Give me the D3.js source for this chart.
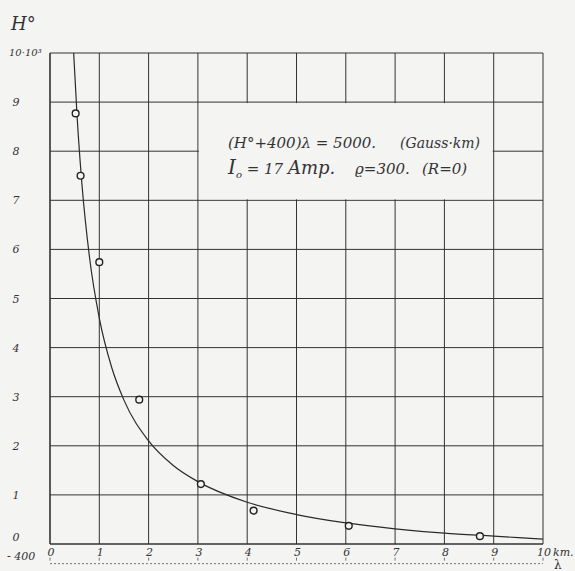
<!DOCTYPE html>
<html>
<head>
<meta charset="utf-8">
<script src="https://cdn.jsdelivr.net/npm/d3@7"></script>
<style>
  body { margin: 0; background: #f4f4f3; }
  svg { display: block; }
  text { font-family: "DejaVu Serif", "Liberation Serif", serif; font-style: italic; fill: #333; white-space: pre; }
</style>
</head>
<body>
<div id="chart"></div>
<script>
// observed points (lambda in km, H° in gauss)
const obsLambda = [0.52, 0.62, 1.0, 1.81, 3.06, 4.13, 6.06, 8.72];
const obsH = [8770, 7500, 5740, 2940, 1220, 680, 370, 160];

// smooth curve
const curveLambda = [0.48, 0.55, 0.65, 0.8, 1.0, 1.25, 1.5, 2, 2.5, 3, 4, 5, 6, 7, 8, 9, 10];
const curveH = [10000, 8700, 7300, 5850, 4600, 3600, 2930, 2100, 1600, 1270, 850, 600, 430, 310, 220, 160, 100];

const xTicks = [0, 1, 2, 3, 4, 5, 6, 7, 8, 9, 10];
const yTicks = [0, 1000, 2000, 3000, 4000, 5000, 6000, 7000, 8000, 9000, 10000];
const yLabels = ["0", "1", "2", "3", "4", "5", "6", "7", "8", "9", "10·10³"];

const W = 575, H = 571;
const svg = d3.select("#chart").append("svg")
  .attr("width", W).attr("height", H);

const x = d3.scaleLinear().domain([0, 10]).range([50, 543]);
const y = d3.scaleLinear().domain([0, 10000]).range([544, 53]);

const ink = "#333";
const bg = "#f4f4f3";

// grid
svg.append("g").selectAll("line").data(xTicks).join("line")
  .attr("x1", d => x(d)).attr("x2", d => x(d))
  .attr("y1", y(10000)).attr("y2", y(0))
  .attr("stroke", ink).attr("stroke-width", d => (d === 0 ? 1.6 : 1));

svg.append("g").selectAll("line").data(yTicks).join("line")
  .attr("x1", x(0)).attr("x2", x(10))
  .attr("y1", d => y(d)).attr("y2", d => y(d))
  .attr("stroke", ink).attr("stroke-width", d => (d === 0 ? 1.6 : 1));

// blank area behind the formula
svg.append("rect")
  .attr("x", x(3) + 1).attr("y", y(9000) + 1)
  .attr("width", x(9) - x(3) - 2).attr("height", y(7000) - y(9000) - 2)
  .attr("fill", bg);

// -400 baseline (dashed) with little ticks
svg.append("line")
  .attr("x1", x(0)).attr("x2", x(10))
  .attr("y1", y(-400)).attr("y2", y(-400))
  .attr("stroke", "#555").attr("stroke-width", 0.8)
  .attr("stroke-dasharray", "2,2");

svg.append("g").selectAll("line").data(xTicks).join("line")
  .attr("x1", d => x(d)).attr("x2", d => x(d))
  .attr("y1", y(-400) - 6).attr("y2", y(-400) - 3)
  .attr("stroke", "#555").attr("stroke-width", 0.8);

// curve
const line = d3.line()
  .x((d, i) => x(curveLambda[i]))
  .y(d => y(d))
  .curve(d3.curveMonotoneX);

svg.append("path").datum(curveH)
  .attr("d", line)
  .attr("fill", "none").attr("stroke", "#2a2a2a").attr("stroke-width", 1.2);

// observed points
svg.append("g").selectAll("circle").data(obsH).join("circle")
  .attr("cx", (d, i) => x(obsLambda[i]))
  .attr("cy", d => y(d))
  .attr("r", 3.4)
  .attr("fill", bg).attr("stroke", "#222").attr("stroke-width", 1.4);

// y labels
svg.append("g").selectAll("text").data(yTicks.slice(0, 10)).join("text")
  .attr("x", 16).attr("y", d => (d === 0 ? y(d) - 3 : y(d) + 4))
  .attr("text-anchor", "middle")
  .attr("font-size", 11)
  .text((d, i) => yLabels[i]);

svg.append("text").attr("x", 9).attr("y", 56)
  .attr("font-size", 10).text("10·10³");
svg.append("text").attr("x", 7).attr("y", 560)
  .attr("font-size", 11).text("- 400");
svg.append("text").attr("x", 11).attr("y", 30)
  .attr("font-size", 18).text("H°");

// x labels
svg.append("g").selectAll("text").data(xTicks).join("text")
  .attr("x", d => x(d) + 1).attr("y", 556)
  .attr("text-anchor", "middle")
  .attr("font-size", 11)
  .text(d => d);

svg.append("text").attr("x", 553).attr("y", 556)
  .attr("font-size", 11).text("km.");
svg.append("text").attr("x", 554).attr("y", 569)
  .attr("font-size", 12).style("font-style", "normal").text("λ");

// formula
svg.append("text").attr("x", 228).attr("y", 148)
  .attr("font-size", 15)
  .text("(H°+400)λ = 5000.");
svg.append("text").attr("x", 400).attr("y", 148)
  .attr("font-size", 14)
  .text("(Gauss·km)");

const t2 = svg.append("text").attr("x", 228).attr("y", 174).attr("font-size", 15);
t2.append("tspan").attr("font-size", 20).text("I");
t2.append("tspan").attr("font-size", 10).attr("dy", 4).text("o");
t2.append("tspan").attr("dy", -4).text(" = 17 ");
t2.append("tspan").attr("font-size", 18).text("Amp.");
svg.append("text").attr("x", 355).attr("y", 174)
  .attr("font-size", 15).text("ϱ=300.");
svg.append("text").attr("x", 422).attr("y", 174)
  .attr("font-size", 15).text("(R=0)");
</script>
</body>
</html>
